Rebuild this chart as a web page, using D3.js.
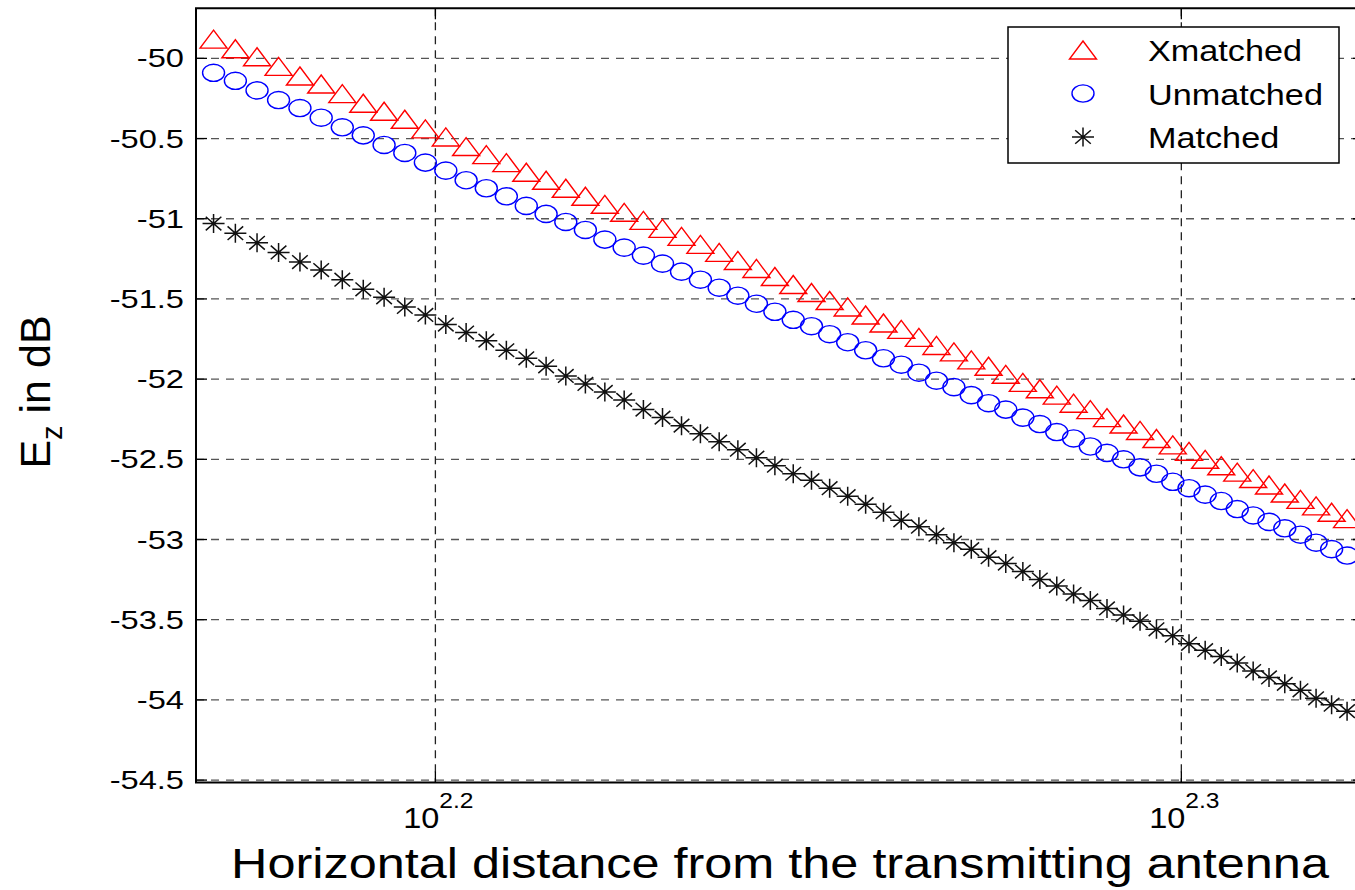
<!DOCTYPE html>
<html>
<head>
<meta charset="utf-8">
<script src="https://cdn.jsdelivr.net/npm/d3@7/dist/d3.min.js"></script>
<style>
body { margin: 0; background: #fff; overflow: hidden; }
svg { display: block; font-family: "Liberation Sans", Arial, sans-serif; }
</style>
</head>
<body>
<script>
// horizontal distance (x, log axis)
var distance = [148, 149, 150, 151, 152, 153, 154, 155, 156, 157, 158, 159, 160,
    161, 162, 163, 164, 165, 166, 167, 168, 169, 170, 171, 172, 173, 174, 175,
    176, 177, 178, 179, 180, 181, 182, 183, 184, 185, 186, 187, 188, 189, 190,
    191, 192, 193, 194, 195, 196, 197, 198, 199, 200, 201, 202, 203, 204, 205,
    206, 207, 208, 209, 210];

var xmatched = [-49.88, -49.94, -49.99, -50.05, -50.11, -50.16, -50.22, -50.28,
    -50.33, -50.38, -50.44, -50.49, -50.55, -50.60, -50.65, -50.71, -50.76,
    -50.81, -50.86, -50.91, -50.96, -51.01, -51.06, -51.11, -51.16, -51.21,
    -51.26, -51.31, -51.36, -51.41, -51.46, -51.51, -51.55, -51.60, -51.65,
    -51.69, -51.74, -51.79, -51.83, -51.88, -51.92, -51.97, -52.02, -52.06,
    -52.10, -52.15, -52.19, -52.24, -52.28, -52.32, -52.37, -52.41, -52.45,
    -52.50, -52.54, -52.58, -52.62, -52.66, -52.71, -52.75, -52.79, -52.83,
    -52.87];

var unmatched = [-50.09, -50.14, -50.20, -50.26, -50.31, -50.37, -50.43, -50.48,
    -50.54, -50.59, -50.65, -50.70, -50.76, -50.81, -50.86, -50.92, -50.97,
    -51.02, -51.07, -51.13, -51.18, -51.23, -51.28, -51.33, -51.38, -51.43,
    -51.48, -51.53, -51.58, -51.63, -51.67, -51.72, -51.77, -51.82, -51.87,
    -51.91, -51.96, -52.01, -52.05, -52.10, -52.15, -52.19, -52.24, -52.28,
    -52.33, -52.37, -52.42, -52.46, -52.50, -52.55, -52.59, -52.64, -52.68,
    -52.72, -52.76, -52.81, -52.85, -52.89, -52.93, -52.97, -53.02, -53.06,
    -53.10];

var matched = [-51.03, -51.09, -51.15, -51.21, -51.27, -51.32, -51.38, -51.44,
    -51.49, -51.55, -51.60, -51.66, -51.71, -51.76, -51.82, -51.87, -51.92,
    -51.98, -52.03, -52.08, -52.13, -52.19, -52.24, -52.29, -52.34, -52.39,
    -52.44, -52.49, -52.54, -52.59, -52.63, -52.68, -52.73, -52.78, -52.83,
    -52.88, -52.92, -52.97, -53.02, -53.06, -53.11, -53.15, -53.20, -53.25,
    -53.29, -53.34, -53.38, -53.43, -53.47, -53.51, -53.56, -53.60, -53.65,
    -53.69, -53.73, -53.77, -53.82, -53.86, -53.90, -53.94, -53.99, -54.03,
    -54.07];

var yTicks = [-54.5, -54, -53.5, -53, -52.5, -52, -51.5, -51, -50.5, -50];
var xTickExponents = ['2.2', '2.3'];
var seriesNames = ['Xmatched', 'Unmatched', 'Matched'];

var width = 1355, height = 890;
var plot = {left: 196, right: 1364, top: 8.3, bottom: 782.5};

var svg = d3.select('body').append('svg')
    .attr('width', width)
    .attr('height', height);

var x = d3.scaleLog()
    .domain([147.2, 211.1])
    .range([plot.left, plot.right]);

var y = d3.scaleLinear()
    .domain([-54.515, -49.688])
    .range([plot.bottom, plot.top]);

var xTicks = xTickExponents.map(function (e) { return Math.pow(10, +e); });

// grid
var grid = svg.append('g').attr('class', 'grid');
grid.selectAll('.hgrid')
    .data(yTicks)
  .enter().append('line')
    .attr('class', 'hgrid')
    .attr('x1', plot.left).attr('x2', plot.right)
    .attr('y1', function (d) { return y(d); })
    .attr('y2', function (d) { return y(d); })
    .attr('stroke', '#555')
    .attr('stroke-width', 1.3)
    .attr('stroke-dasharray', '8,7');

grid.selectAll('.vgrid')
    .data(xTicks)
  .enter().append('line')
    .attr('class', 'vgrid')
    .attr('x1', function (d) { return x(d); })
    .attr('x2', function (d) { return x(d); })
    .attr('y1', plot.top).attr('y2', plot.bottom)
    .attr('stroke', '#222')
    .attr('stroke-width', 1.3)
    .attr('stroke-dasharray', '8,6');

// tick marks (inside, every side)
var ticks = svg.append('g').attr('class', 'ticks')
    .attr('stroke', '#000').attr('stroke-width', 1.3);
yTicks.forEach(function (d) {
    ticks.append('line')
        .attr('x1', plot.left).attr('x2', plot.left + 11)
        .attr('y1', y(d)).attr('y2', y(d));
    ticks.append('line')
        .attr('x1', plot.right).attr('x2', plot.right - 11)
        .attr('y1', y(d)).attr('y2', y(d));
});
xTicks.forEach(function (d) {
    ticks.append('line')
        .attr('x1', x(d)).attr('x2', x(d))
        .attr('y1', plot.bottom).attr('y2', plot.bottom - 11);
    ticks.append('line')
        .attr('x1', x(d)).attr('x2', x(d))
        .attr('y1', plot.top).attr('y2', plot.top + 11);
});

// markers
function triangle(sel) {
    sel.append('path')
        .attr('d', 'M0,-9L13.5,9L-13.5,9Z')
        .attr('fill', 'none')
        .attr('stroke', '#ff0000')
        .attr('stroke-width', 1.4);
}

function circle(sel) {
    sel.append('ellipse')
        .attr('rx', 11).attr('ry', 8.6)
        .attr('fill', 'none')
        .attr('stroke', '#0000ff')
        .attr('stroke-width', 1.4);
}

function star(sel) {
    sel.append('path')
        .attr('d', 'M-11,0H11M0,-9.5V9.5M-7.8,-6.8L7.8,6.8M-7.8,6.8L7.8,-6.8')
        .attr('fill', 'none')
        .attr('stroke', '#111')
        .attr('stroke-width', 1.5);
}

var series = [
    {name: seriesNames[0], values: xmatched, icon: triangle},
    {name: seriesNames[1], values: unmatched, icon: circle},
    {name: seriesNames[2], values: matched, icon: star}
];

svg.append('clipPath').attr('id', 'clip')
  .append('rect')
    .attr('x', plot.left).attr('y', plot.top)
    .attr('width', plot.right - plot.left)
    .attr('height', plot.bottom - plot.top);

var marks = svg.append('g').attr('clip-path', 'url(#clip)');
series.forEach(function (s) {
    marks.append('g')
        .selectAll('g')
        .data(distance)
      .enter().append('g')
        .attr('transform', function (d, i) {
            return 'translate(' + x(d) + ',' + y(s.values[i]) + ')';
        })
        .each(function () { d3.select(this).call(s.icon); });
});

// axes frame
var frame = svg.append('g').attr('stroke', '#000').attr('stroke-width', 2).attr('fill', 'none');
frame.append('path')
    .attr('d', 'M' + plot.right + ',' + plot.top + 'H' + plot.left + 'V' + plot.bottom + 'H' + plot.right + 'V' + plot.top);

// y tick labels
svg.append('g').selectAll('text')
    .data(yTicks)
  .enter().append('text')
    .attr('transform', function (d) {
        return 'translate(184,' + (y(d) + 9) + ') scale(1.28,1)';
    })
    .attr('text-anchor', 'end')
    .attr('font-size', 25.5)
    .text(function (d) { return String(d); });

// x tick labels: 10^e
xTicks.forEach(function (d, i) {
    var t = svg.append('text')
        .attr('transform', 'translate(' + (x(d) + 3) + ',828) scale(1.12,1)')
        .attr('text-anchor', 'middle')
        .attr('font-size', 29);
    t.append('tspan').text('10');
    t.append('tspan')
        .attr('font-size', 22)
        .attr('dy', -20)
        .text(xTickExponents[i]);
});

// x label
svg.append('text')
    .attr('transform', 'translate(780,878) scale(1.2,1)')
    .attr('text-anchor', 'middle')
    .attr('font-size', 42)
    .text('Horizontal distance from the transmitting antenna');

// y label
var ylab = svg.append('text')
    .attr('transform', 'translate(50,392) rotate(-90)')
    .attr('text-anchor', 'middle')
    .attr('font-size', 43);
ylab.append('tspan').text('E');
ylab.append('tspan').attr('font-size', 29).attr('dy', 12).text('z');
ylab.append('tspan').attr('dy', -12).text(' in dB');

// legend
var legend = svg.append('g').attr('class', 'legend');
legend.append('rect')
    .attr('x', 1008).attr('y', 27)
    .attr('width', 331).attr('height', 136)
    .attr('fill', '#fff')
    .attr('stroke', '#000')
    .attr('stroke-width', 1.5);

var entryY = d3.scalePoint().domain(seriesNames).range([50, 137]);
var entries = legend.selectAll('.entry')
    .data(series)
  .enter().append('g')
    .attr('class', 'entry')
    .attr('transform', function (d) { return 'translate(0,' + entryY(d.name) + ')'; });

entries.append('g')
    .attr('transform', 'translate(1083,0)')
    .each(function (d) { d3.select(this).call(d.icon); });

entries.append('text')
    .attr('transform', 'translate(1148,11) scale(1.18,1)')
    .attr('font-size', 29)
    .text(function (d) { return d.name; });
</script>
</body>
</html>
